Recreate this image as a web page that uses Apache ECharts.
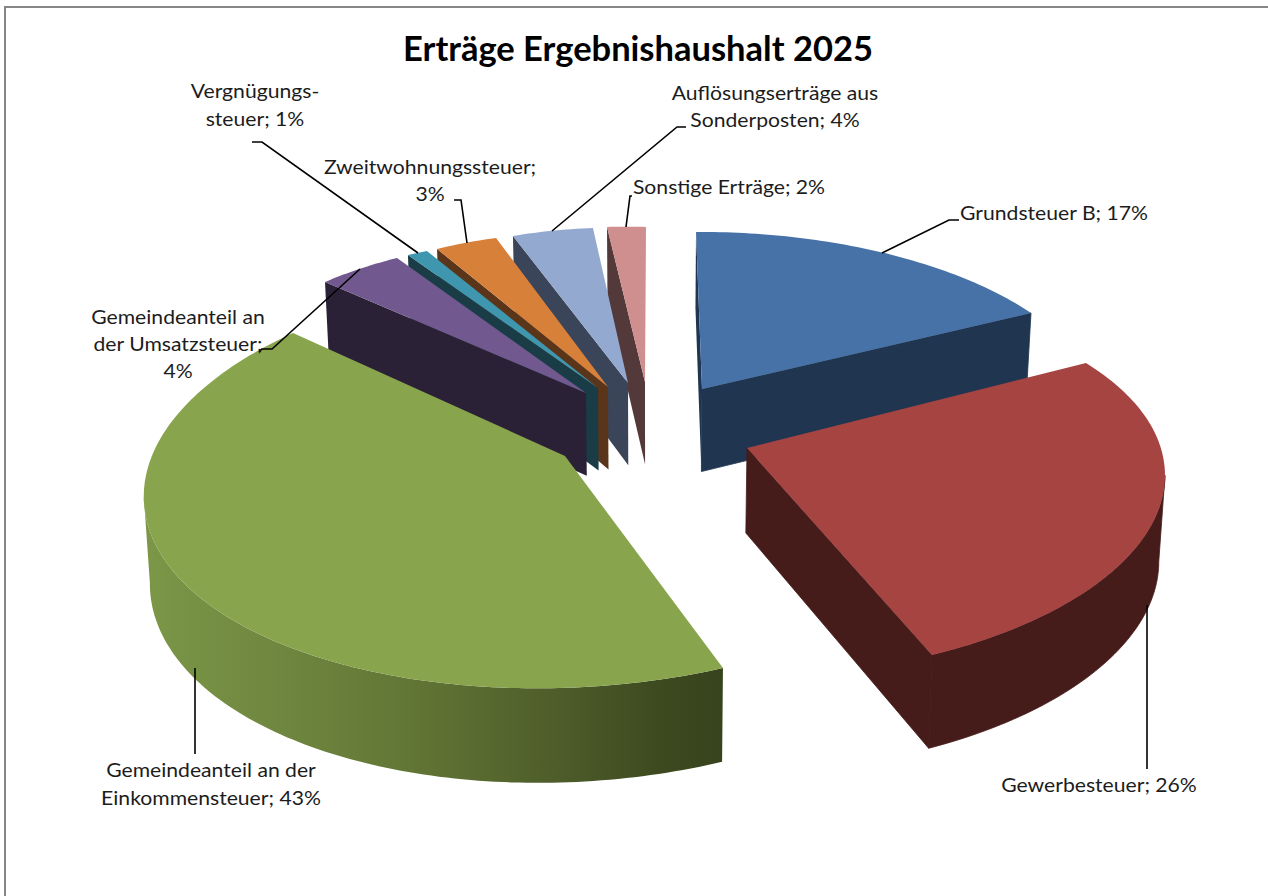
<!DOCTYPE html>
<html><head><meta charset="utf-8"><script src="https://cdn.jsdelivr.net/npm/echarts@6/dist/echarts.min.js"></script>
<style>html,body{margin:0;background:#fff}#c{width:1268px;height:896px}</style></head>
<body><div id="c"></div><script>
// Chart data
const categories=["Grundsteuer B","Gewerbesteuer","Gemeindeanteil an der Einkommensteuer","Gemeindeanteil an der Umsatzsteuer","Vergnügungssteuer","Zweitwohnungssteuer","Auflösungserträge aus Sonderposten","Sonstige Erträge"];
const values=[17,26,43,4,1,3,4,2];
const labelLines=[["Grundsteuer B; 17%"],["Gewerbesteuer; 26%"],["Gemeindeanteil an der","Einkommensteuer; 43%"],["Gemeindeanteil an","der Umsatzsteuer;","4%"],["Vergnügungs-","steuer; 1%"],["Zweitwohnungssteuer;","3%"],["Auflösungserträge aus","Sonderposten; 4%"],["Sonstige Erträge; 2%"]];
// Styling
const topColors=["#4672A7","#A64442","#88A44D","#71588F","#3E96AF","#D6803A","#93A9CF","#CE8F8E"];
const wallColors=["#1F3550","#451C1A","#88A44D","#2B2136","#1A3C46","#5A3519","#3B4559","#533939"];
const greenRamp=[[0,'#7B9747'],[0.27,'#6D843E'],[0.5,'#5F7233'],[0.72,'#4D5C2A'],[0.88,'#3E4B20'],[1,'#37431C']];
// Back-to-front painting order of the exploded slices
const drawOrder=[7,6,5,4,3,0,2,1];
// Per-slice projection of the unit pie plane to the page: [apexX,apexY, a,b,c,d, u,v]
const sliceProjection=[
 [702,389,370.2,-6.4,7.7,-168.1,-0.0656,0.0709],
 [747,448,397.3,21.2,-0.4804,-185.7,-0.0396,0.1908],
 [565,456,421.8,43.8,4.3169,-205.6,-0.0254,0.1140],
 [586,393,364.6,31.3,15.1,-155.9,0,0],
 [598,388,351.7,20.6,23.3,-147.5,0,0],
 [608,387,343.8,15.7,13.4,-155.0,0,0],
 [628,383,327.9,6.1,6.9,-155.4,0,0],
 [645,382,311.1,1.0,9.8,-155.0,0,0]];
const labelX=[1054,1099,211,178,255,430,775,729];
const labelY=[[212],[784],[769,797],[316,343,370],[90,118],[166,193],[92,119],[186]];
const leaders=[[[959,220],[949,220],[882,253]],[[1147,605],[1147,769]],[[195,668],[195,754]],[[259,352],[262,349],[272,349],[360,269]],[[252,142],[262,142],[418,253]],[[454,200],[461,200],[467,243]],[[686,127],[677,127],[552,231]],[[632,196],[630,196],[626,227]]];

const total=values.reduce((a,b)=>a+b,0);let acc=0;const starts=values.map(v=>{const s=acc;acc+=v;return s/total*360;});
function P(i,t){const p=sliceProjection[i],S=Math.sin(t*Math.PI/180),C=Math.cos(t*Math.PI/180),w=1+p[6]*S+p[7]*C;return [p[0]+(p[2]*S+p[3]*C)/w,p[1]+(p[4]*S+p[5]*C)/w];}
function low(q){return [q[0]-(q[0]-650)*0.012,q[1]+83+(q[1]-400)*0.04];}
function item(params,api){const i=params.dataIndex,v=api.value(0),t0=starts[i],t1=t0+v/total*360,p=sliceProjection[i],apex=[p[0],p[1]];
 const arc=[];const n=Math.max(2,Math.ceil(t1-t0));for(let k=0;k<=n;k++)arc.push(P(i,t0+(t1-t0)*k/n));
 const z=drawOrder.indexOf(i)*10;const kids=[];
 const poly=(pts,fill,zz,stroke)=>kids.push({type:'polygon',shape:{points:pts},style:{fill:fill,stroke:stroke||null,lineWidth:stroke?0.8:0},z2:z+zz});
 if(i==0||i>2) poly([apex,arc[0],low(arc[0]),low(apex)],wallColors[i],0);
 if(i<2) poly([apex,arc[n],low(arc[n]),low(apex)],wallColors[i],1,wallColors[i]);
 if(i==1){let e=0;arc.forEach((q,k)=>{if(q[0]>arc[e][0])e=k;});const s=arc.slice(e);poly([...s,...s.slice().reverse().map(low)],wallColors[1],2,wallColors[1]);}
 if(i==2){let e=0;arc.forEach((q,k)=>{if(q[0]<arc[e][0])e=k;});const s=arc.slice(0,e+1);poly([...s,...s.slice().reverse().map(low)],{type:'linear',x:0,y:0,x2:1,y2:0,colorStops:greenRamp.map(r=>({offset:r[0],color:r[1]}))},2);}
 poly([apex,...arc],topColors[i],3);
 return {type:'group',children:kids};}
const g=[{type:'polyline',shape:{points:[[5,896],[5,7],[1268,7]]},style:{stroke:'#868686',lineWidth:2,fill:null},z:20}];
leaders.forEach(l=>g.push({type:'polyline',shape:{points:l},style:{stroke:'#000',lineWidth:1.6,fill:null},z:20}));
labelLines.forEach((lines,i)=>lines.forEach((s,k)=>g.push({type:'text',x:labelX[i],y:labelY[i][k],scaleX:1.085,style:{text:s,font:'19.5px Lato',fill:'#1c1c1c',align:'center',verticalAlign:'middle'},z:21})));
const ch=echarts.init(document.getElementById('c'),null,{renderer:'svg'});
ch.setOption({animation:false,backgroundColor:'#fff',title:{text:'Erträge Ergebnishaushalt 2025',left:633,top:25,textAlign:'center',textStyle:{fontFamily:'Lato',fontWeight:'bold',fontSize:34.5,color:'#000'}},
 series:[{type:'custom',name:'Erträge',coordinateSystem:'none',renderItem:item,data:values.map((v,i)=>({name:categories[i],value:[v]})),silent:true}],graphic:g});
</script></body></html>
